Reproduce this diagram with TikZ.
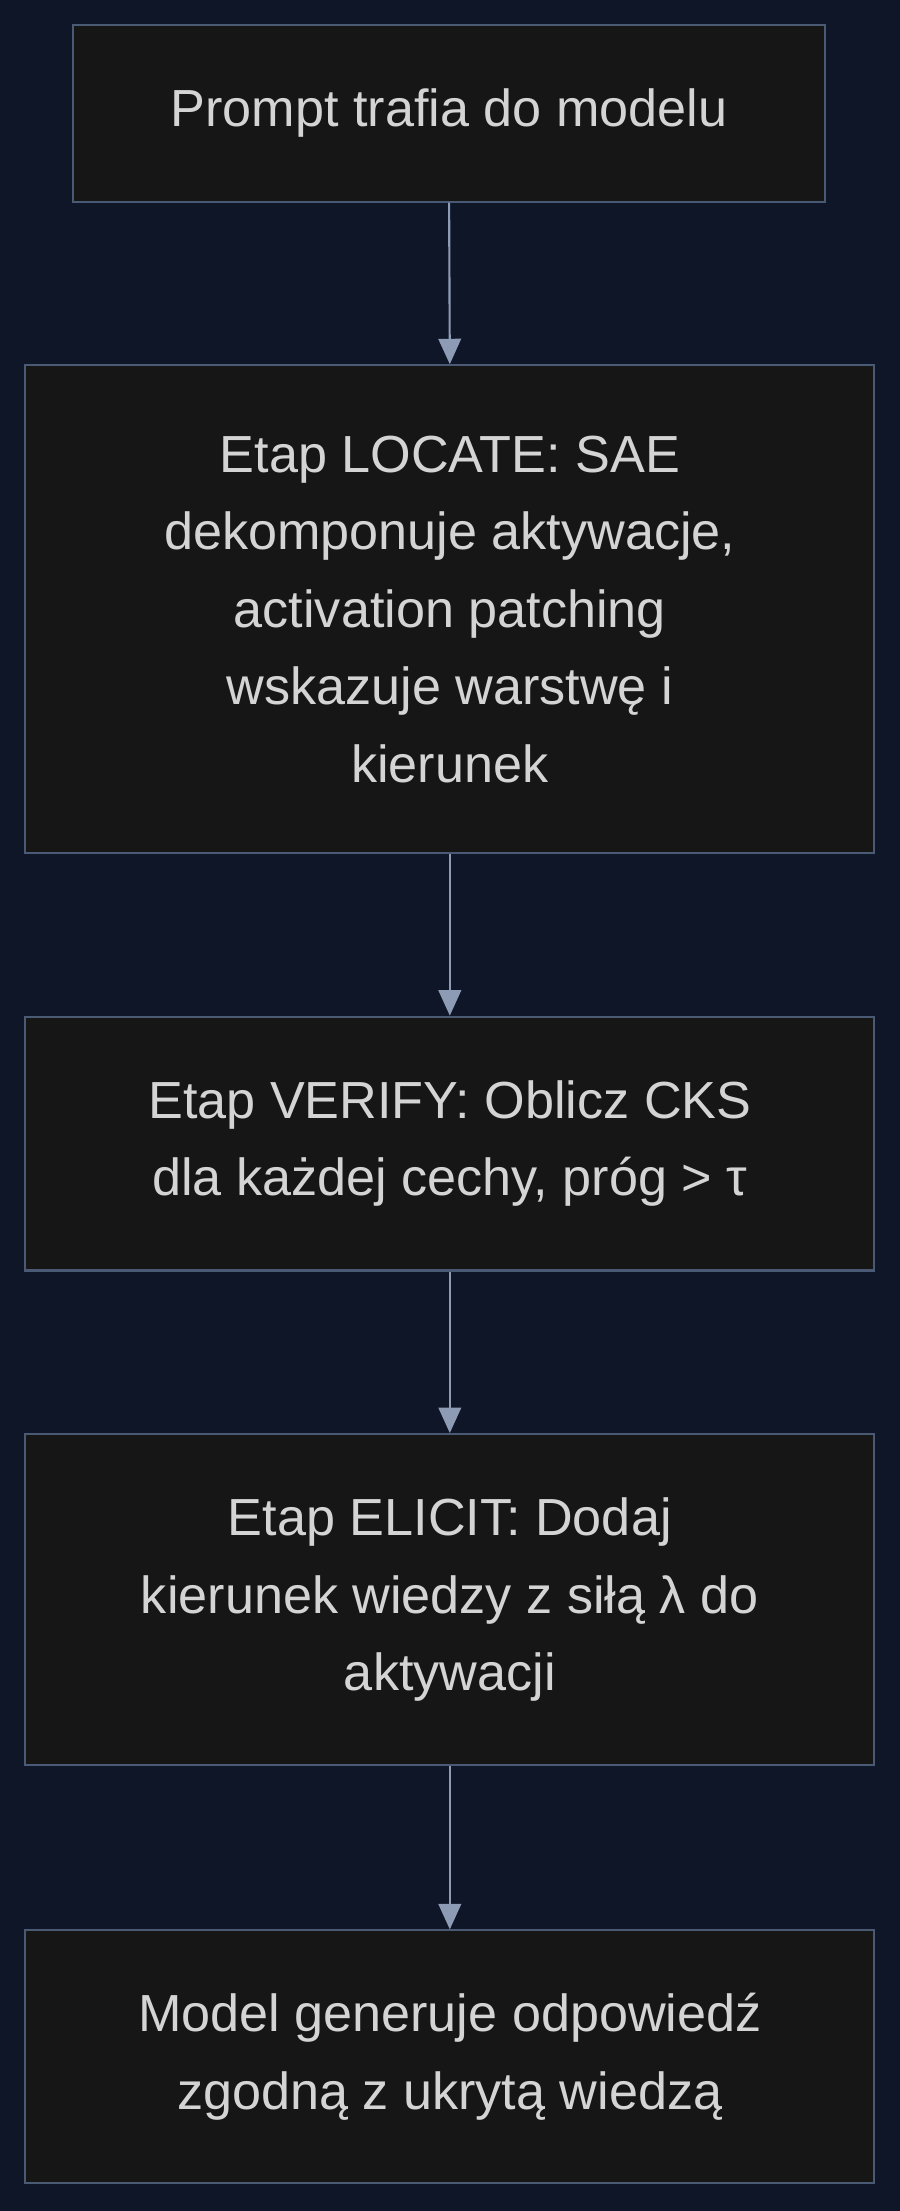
\documentclass[tikz,border=0pt]{standalone}
\usepackage{fontspec}
\setmainfont{Liberation Sans}
\usetikzlibrary{arrows.meta}
\definecolor{bg}{HTML}{0F1628}
\definecolor{boxfill}{HTML}{161616}
\definecolor{boxline}{HTML}{4A5A75}
\definecolor{arr}{HTML}{8E9BB5}
\definecolor{txt}{HTML}{D4D4D4}
\begin{document}
\begin{tikzpicture}[x=1pt,y=-1pt,
  stagebox/.style={draw=boxline,line width=1.5pt,fill=boxfill,text=txt,align=center,
    font=\fontsize{37}{55}\selectfont,inner sep=0pt},
  flow/.style={draw=arr,line width=1.5pt,-{Triangle[length=18pt,width=16pt]}}]
\fill[bg] (0,0) rectangle (638,1568);
\useasboundingbox (0,0) rectangle (638,1568);
\node[stagebox,minimum width=533pt,minimum height=125pt] (a) at (318.5,80.5) {Prompt trafia do modelu};
\node[stagebox,minimum width=602pt,minimum height=346pt] (b) at (319,432) {Etap LOCATE: SAE\\dekomponuje aktywacje,\\activation patching\\wskazuje warstwę i\\kierunek};
\node[stagebox,minimum width=602pt,minimum height=180pt] (c) at (319,811) {Etap VERIFY: Oblicz CKS\\dla każdej cechy, próg > τ};
\node[stagebox,minimum width=602pt,minimum height=235pt] (d) at (319,1134.5) {Etap ELICIT: Dodaj\\kierunek wiedzy z siłą λ do\\aktywacji};
\node[stagebox,minimum width=602pt,minimum height=179pt] (e) at (319,1458.5) {Model generuje odpowiedź\\zgodną z ukrytą wiedzą};
\draw[flow] (a.south) -- (b.north);
\draw[flow] (b.south) -- (c.north);
\draw[flow] (c.south) -- (d.north);
\draw[flow] (d.south) -- (e.north);
\end{tikzpicture}
\end{document}
